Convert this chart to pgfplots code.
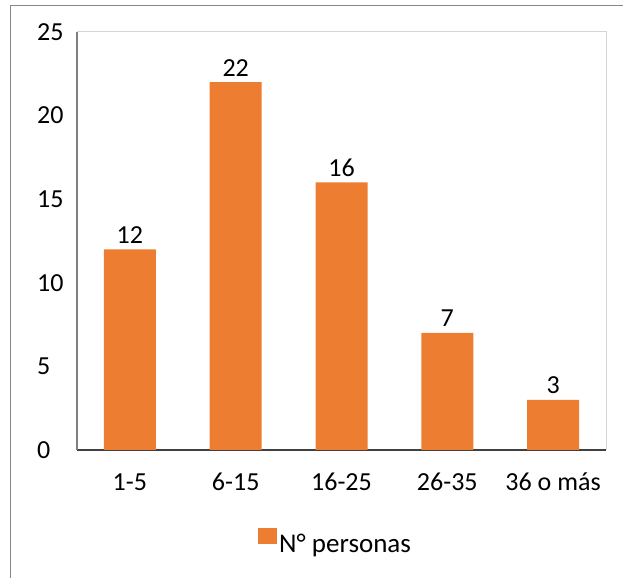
\documentclass[border=0pt]{standalone}
\usepackage{pgfplots}
\pgfplotsset{compat=1.18}
\usepackage{fontspec}
\setmainfont{Carlito}
\definecolor{barorange}{HTML}{ED7D31}
\definecolor{framegray}{HTML}{888888}
\definecolor{boxgray}{HTML}{D4D4D4}
\definecolor{yaxisgray}{HTML}{7F7F7F}
\definecolor{xaxisgray}{HTML}{404040}
\begin{document}
\begin{tikzpicture}[font=\fontsize{26bp}{30bp}\selectfont]
\path[use as bounding box] (0bp,0bp) rectangle (623bp,578bp);
\draw[framegray, line width=1bp] (10.5bp,-10bp) -- (10.5bp,572.5bp) -- (640bp,572.5bp);
\begin{axis}[
  at={(77bp,128bp)}, anchor=south west,
  scale only axis, width=529bp, height=418bp,
  xmin=-0.5, xmax=4.5, ymin=0, ymax=25,
  ybar, bar width=52bp,
  xtick={0,1,2,3,4},
  xticklabels={1-5,6-15,16-25,26-35,36 o más},
  ytick={0,5,10,15,20,25},
  axis lines=left,
  axis line style={-},
  x axis line style={draw=xaxisgray, line width=1.5bp},
  y axis line style={draw=yaxisgray, line width=2bp},
  major tick length=0pt,
  tick style={draw=none},
  /pgf/number format/assume math mode=true,
  tick label style={font=\fontsize{26bp}{30bp}\selectfont, text=black},
  yticklabel style={anchor=west, inner sep=0pt, xshift=-40bp},
  xticklabel style={anchor=base, inner sep=0pt, yshift=-40bp},
  nodes near coords,
  nodes near coords style={anchor=base, inner sep=0pt, yshift=6bp, font=\fontsize{26bp}{30bp}\selectfont, text=black},
  legend style={at={(0.3422,-0.2200)}, anchor=west, draw=none, fill=none, inner sep=0pt,
    font=\fontsize{27bp}{30bp}\selectfont},
  legend image code/.code={\fill[barorange] (0bp,-0.5bp) rectangle (19bp,16bp);},
  clip=false,
]
\addplot[fill=barorange, draw=none] coordinates {(0,12) (1,22) (2,16) (3,7) (4,3)};
\addlegendentry{N° personas}
\draw[boxgray, line width=1bp] (rel axis cs:0,1) -- (rel axis cs:1,1) -- (rel axis cs:1,0);
\end{axis}
\end{tikzpicture}
\end{document}
